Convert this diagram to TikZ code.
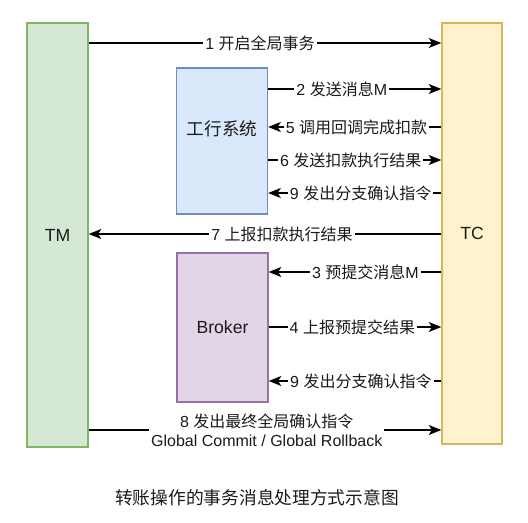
\documentclass[tikz,border=0pt]{standalone}
\usepackage{fontspec}
\setmainfont{Liberation Sans}
\newfontfamily\cjk{Noto Sans CJK SC}
\usetikzlibrary{arrows.meta}

\definecolor{tmfill}{HTML}{D5E8D4}
\definecolor{tmline}{HTML}{82B366}
\definecolor{tcfill}{HTML}{FFF2CC}
\definecolor{tcline}{HTML}{D6B656}
\definecolor{ghfill}{HTML}{DAE8FC}
\definecolor{ghline}{HTML}{6C8EBF}
\definecolor{bkfill}{HTML}{E1D5E7}
\definecolor{bkline}{HTML}{9673A6}
\definecolor{ink}{HTML}{1A1A1A}

\tikzset{
  party/.style={draw, line width=1pt, inner sep=0pt, text=ink,
                font=\fontsize{13.2}{15}\selectfont},
  msg/.style={line width=1pt,
              -{Stealth[length=9.5pt, width=7.5pt, inset=2.5pt]}},
  lbl/.style={fill=white, text=ink, inner xsep=1.5pt, inner ysep=0.5pt,
              font=\fontsize{12}{14.25}\selectfont},
}

\begin{document}
\begin{tikzpicture}[x=0.75pt, y=-0.75pt]
\useasboundingbox (0,0) rectangle (528,523);

% participants
\node[party, fill=tmfill, draw=tmline, minimum width=45.75pt, minimum height=318pt]
  (tm) at (57.5,235) {TM};
\node[party, fill=tcfill, draw=tcline, minimum width=45pt, minimum height=315.75pt]
  (tc) at (472,233.5) {TC};
\node[party, fill=ghfill, draw=ghline, minimum width=68.25pt, minimum height=109.5pt]
  (gh) at (222,141) {};
\node[text=ink, font=\fontsize{13.2}{15}\selectfont\cjk] (ghname)
  at ([yshift=9pt]gh.center) {工行系统};
\node[party, fill=bkfill, draw=bkline, minimum width=68.25pt, minimum height=111.75pt]
  (bk) at (222.5,327.5) {Broker};

% messages
\draw[msg] (tm.east |- 0,43) -- node[lbl, pos=0.486] {1 {\cjk 开启全局事务}} (tc.west |- 0,43);
\draw[msg] (gh.east |- 0,89) -- node[lbl, pos=0.425] {2 {\cjk 发送消息}M} (tc.west |- 0,89);
\draw[msg] (tc.west |- 0,127) -- node[lbl, pos=0.49] {5 {\cjk 调用回调完成扣款}} (gh.east |- 0,127);
\draw[msg] (gh.east |- 0,160) -- node[lbl, pos=0.477] {6 {\cjk 发送扣款执行结果}} (tc.west |- 0,160);
\draw[msg] (tc.west |- 0,193) -- node[lbl, pos=0.466] {9 {\cjk 发出分支确认指令}} (gh.east |- 0,193);
\draw[msg] (tc.west |- 0,234) -- node[lbl, pos=0.452] {7 {\cjk 上报扣款执行结果}} (tm.east |- 0,234);
\draw[msg] (tc.west |- 0,272) -- node[lbl, pos=0.44] {3 {\cjk 预提交消息}M} (bk.east |- 0,272);
\draw[msg] (bk.east |- 0,327) -- node[lbl, pos=0.485] {4 {\cjk 上报预提交结果}} (tc.west |- 0,327);
\draw[msg] (tc.west |- 0,381) -- node[lbl, pos=0.466] {9 {\cjk 发出分支确认指令}} (bk.east |- 0,381);
\draw[msg] (tm.east |- 0,430) -- node[lbl, align=center, pos=0.505]
  {8 {\cjk 发出最终全局确认指令}\\Global Commit / Global Rollback} (tc.west |- 0,430);

% caption
\node[text=ink, font=\fontsize{13.3}{15}\selectfont\cjk] (caption) at (257,498)
  {转账操作的事务消息处理方式示意图};
\end{tikzpicture}
\end{document}
